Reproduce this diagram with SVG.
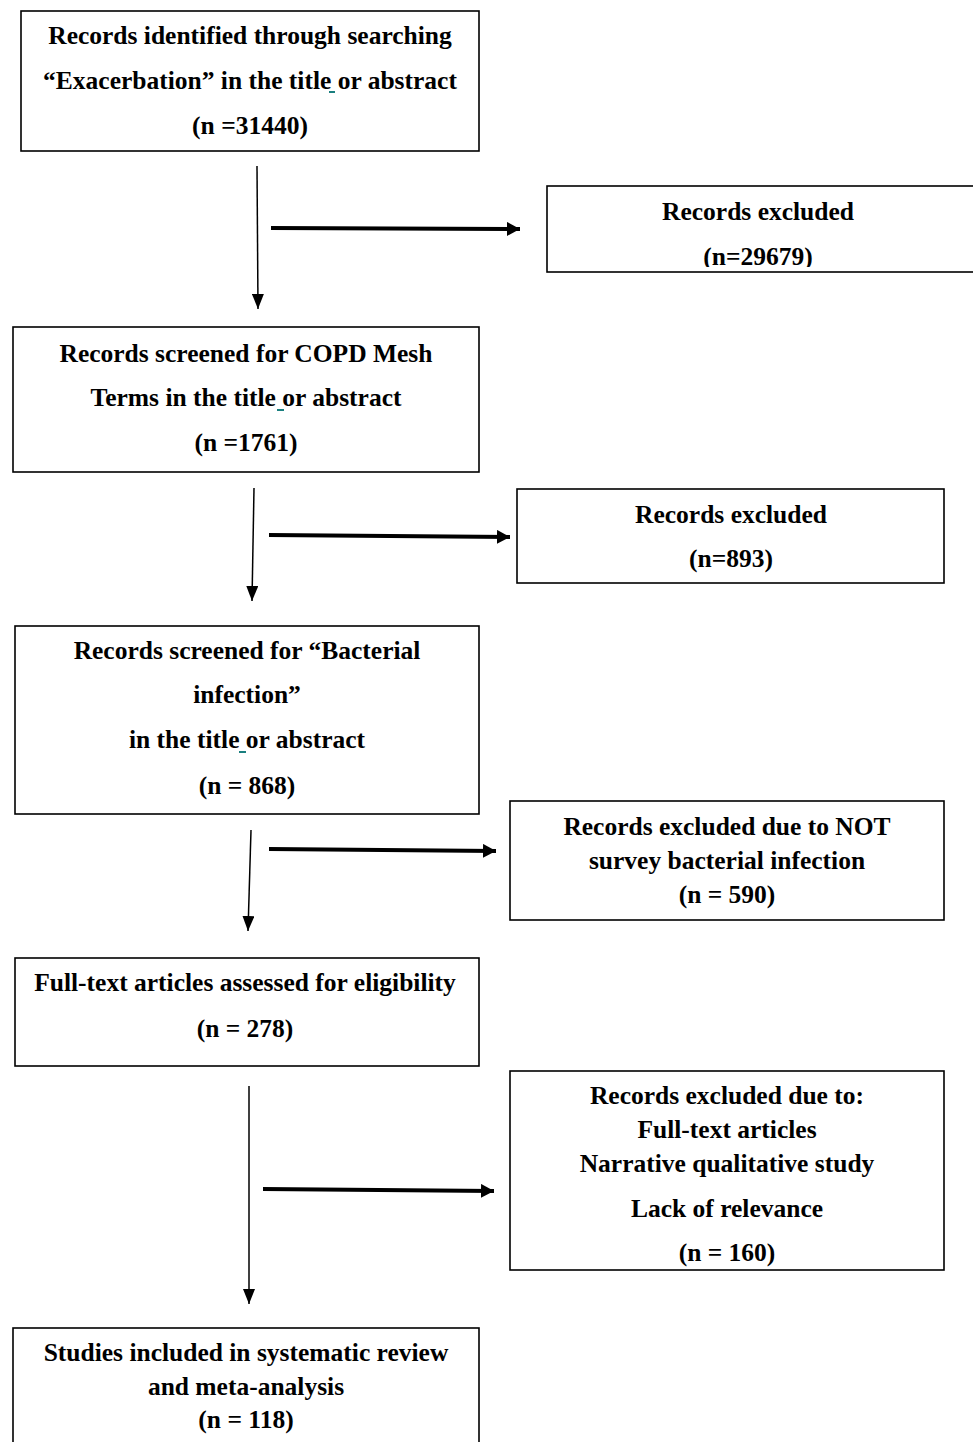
<svg xmlns="http://www.w3.org/2000/svg" width="973" height="1442" viewBox="0 0 973 1442">
<defs>
<style>
.box{fill:#fff;stroke:#000;stroke-width:1.6}
.t{font-family:"Liberation Serif","Times New Roman",serif;font-weight:bold;font-size:25.5px;fill:#000;text-anchor:middle}
.thin{stroke:#000;stroke-width:1.5;fill:none}
.thick{stroke:#000;stroke-width:4;fill:none}
.mk{fill:#000}
.teal{fill:#1a7f7f}
</style>
<marker id="ah" markerUnits="userSpaceOnUse" markerWidth="16" markerHeight="12" refX="15" refY="6" orient="auto">
<path class="mk" d="M0,0 L15,6 L0,12 z"/>
</marker>
<marker id="ahb" markerUnits="userSpaceOnUse" markerWidth="14" markerHeight="14" refX="13" refY="7" orient="auto">
<path class="mk" d="M0,0 L13,7 L0,14 z"/>
</marker>
<clipPath id="c1"><rect x="547" y="186" width="426" height="81"/></clipPath>
</defs>
<rect width="973" height="1442" fill="#fff"/>

<g id="connectors">
<line class="thin" x1="257" y1="166" x2="258" y2="309" marker-end="url(#ah)"/>
<line class="thick" x1="271" y1="228" x2="520" y2="229" marker-end="url(#ahb)"/>
<line class="thin" x1="254" y1="488" x2="252" y2="601" marker-end="url(#ah)"/>
<line class="thick" x1="269" y1="535" x2="510" y2="537" marker-end="url(#ahb)"/>
<line class="thin" x1="251" y1="830" x2="248" y2="931" marker-end="url(#ah)"/>
<line class="thick" x1="269" y1="849" x2="496" y2="851" marker-end="url(#ahb)"/>
<line class="thin" x1="249" y1="1086" x2="249" y2="1304" marker-end="url(#ah)"/>
<line class="thick" x1="263" y1="1189" x2="494" y2="1191" marker-end="url(#ahb)"/>
</g>

<g id="n1">
<rect class="box" x="21" y="11" width="458" height="140"/>
<text class="t" x="250" y="44">Records identified through searching</text>
<text class="t" x="250" y="89">“Exacerbation” in the title or abstract</text>
<text class="t" x="250" y="134">(n =31440)</text>
<rect class="teal" x="329" y="91" width="6" height="2"/>
</g>

<g id="n2">
<rect class="box" x="547" y="186" width="430" height="86"/>
<text class="t" x="758" y="220">Records excluded</text>
<text class="t" x="758" y="265" clip-path="url(#c1)">(n=29679)</text>
</g>

<g id="n3">
<rect class="box" x="13" y="327" width="466" height="145"/>
<text class="t" x="246" y="362">Records screened for COPD Mesh</text>
<text class="t" x="246" y="406">Terms in the title or abstract</text>
<text class="t" x="246" y="451">(n =1761)</text>
<rect class="teal" x="277" y="409" width="7" height="2"/>
</g>

<g id="n4">
<rect class="box" x="517" y="489" width="427" height="94"/>
<text class="t" x="731" y="523">Records excluded</text>
<text class="t" x="731" y="567">(n=893)</text>
</g>

<g id="n5">
<rect class="box" x="15" y="626" width="464" height="188"/>
<text class="t" x="247" y="659">Records screened for “Bacterial</text>
<text class="t" x="247" y="703">infection”</text>
<text class="t" x="247" y="748">in the title or abstract</text>
<text class="t" x="247" y="794">(n = 868)</text>
<rect class="teal" x="239" y="751" width="7" height="2"/>
</g>

<g id="n6">
<rect class="box" x="510" y="801" width="434" height="119"/>
<text class="t" x="727" y="835">Records excluded due to NOT</text>
<text class="t" x="727" y="869">survey bacterial infection</text>
<text class="t" x="727" y="903">(n = 590)</text>
</g>

<g id="n7">
<rect class="box" x="15" y="958" width="464" height="108"/>
<text class="t" x="245" y="991">Full-text articles assessed for eligibility</text>
<text class="t" x="245" y="1037">(n = 278)</text>
</g>

<g id="n8">
<rect class="box" x="510" y="1071" width="434" height="199"/>
<text class="t" x="727" y="1104">Records excluded due to:</text>
<text class="t" x="727" y="1138">Full-text articles</text>
<text class="t" x="727" y="1172">Narrative qualitative study</text>
<text class="t" x="727" y="1217">Lack of relevance</text>
<text class="t" x="727" y="1261">(n = 160)</text>
</g>

<g id="n9">
<rect class="box" x="13" y="1328" width="466" height="130"/>
<text class="t" x="246" y="1361">Studies included in systematic review</text>
<text class="t" x="246" y="1395">and meta-analysis</text>
<text class="t" x="246" y="1428">(n = 118)</text>
</g>
</svg>
